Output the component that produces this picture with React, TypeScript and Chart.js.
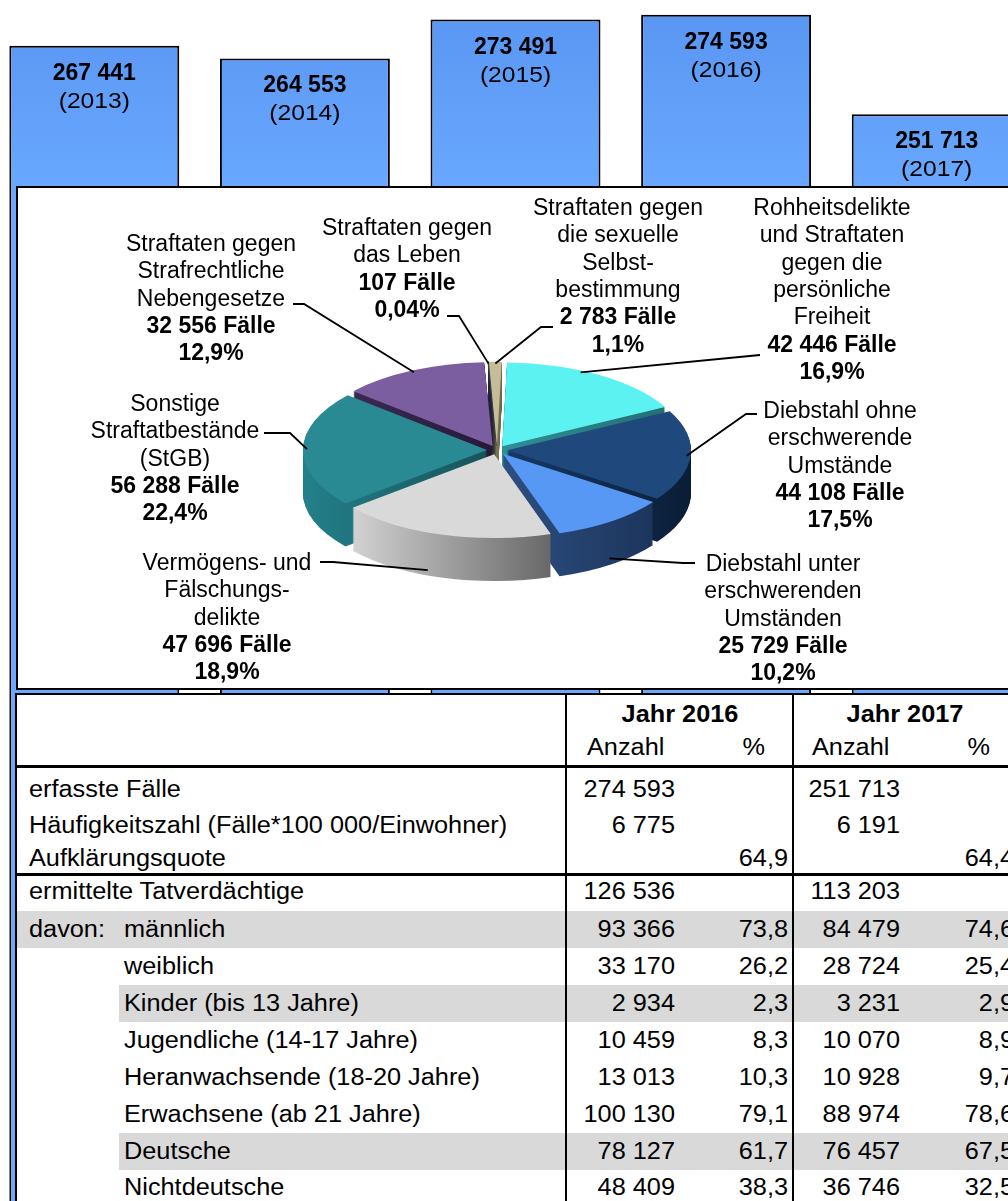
import React, { useEffect, useRef } from 'react';
import { Chart, registerables } from 'chart.js';

Chart.register(...registerables);

const FONT = '"Liberation Sans", Arial, Helvetica, sans-serif';

// ---------------- Data ----------------
const years = ['2013', '2014', '2015', '2016', '2017'];
const recordedCases = [267441, 264553, 273491, 274593, 251713];

const offenceGroups = [
  ['Rohheitsdelikte', 'und Straftaten', 'gegen die', 'persönliche', 'Freiheit'],
  ['Diebstahl ohne', 'erschwerende', 'Umstände'],
  ['Diebstahl unter', 'erschwerenden', 'Umständen'],
  ['Vermögens- und', 'Fälschungs-', 'delikte'],
  ['Sonstige', 'Straftatbestände', '(StGB)'],
  ['Straftaten gegen', 'Strafrechtliche', 'Nebengesetze'],
  ['Straftaten gegen', 'das Leben'],
  ['Straftaten gegen', 'die sexuelle', 'Selbst-', 'bestimmung'],
];
const offenceCases = [42446, 44108, 25729, 47696, 56288, 32556, 107, 2783];
const offencePercents = ['16,9%', '17,5%', '10,2%', '18,9%', '22,4%', '12,9%', '0,04%', '1,1%'];

const tableYears = ['Jahr 2016', 'Jahr 2017'];
const tableSubHeads = ['Anzahl', '%'];
const tableRowLabels = [
  'erfasste Fälle',
  'Häufigkeitszahl (Fälle*100 000/Einwohner)',
  'Aufklärungsquote',
  'ermittelte Tatverdächtige',
  'männlich',
  'weiblich',
  'Kinder (bis 13 Jahre)',
  'Jugendliche (14-17 Jahre)',
  'Heranwachsende (18-20 Jahre)',
  'Erwachsene (ab 21 Jahre)',
  'Deutsche',
  'Nichtdeutsche',
];
const tablePrefix = 'davon:';
const count2016 = [274593, 6775, null, 126536, 93366, 33170, 2934, 10459, 13013, 100130, 78127, 48409];
const percent2016 = ['', '', '64,9', '', '73,8', '26,2', '2,3', '8,3', '10,3', '79,1', '61,7', '38,3'];
const count2017 = [251713, 6191, null, 113203, 84479, 28724, 3231, 10070, 10928, 88974, 76457, 36746];
const percent2017 = ['', '', '64,4', '', '74,6', '25,4', '2,9', '8,9', '9,7', '78,6', '67,5', '32,5'];

// ---------------- Layout / style ----------------
const sliceFace = ['#5cf2f2', '#1f497d', '#5898f5', '#d9d9d9', '#2a8a93', '#7b5e9f', '#3a3a5a', '#c4bd97'];
const sliceSide = [
  ['#2f8f95', '#236f74'],
  ['#163a66', '#0b1d36'],
  ['#2d4f80', '#1c355c'],
  ['#d2d2d2', '#686868'],
  ['#23808a', '#17545b'],
  ['#3a2a52', '#261a38'],
  ['#222233', '#111122'],
  ['#8f8a66', '#6a6548'],
];
const sliceStroke = [0, 0, 0, 0, 0, 0, 1.2, 0];
const labelFirstLine = [[832, 207], [840, 410], [783, 563], [227, 562], [175, 403], [211, 243], [407, 227], [618, 207]];
const leaderAnchor = [
  [[760, 355], [760, 355]],
  [[757, 414], [746, 414]],
  [[695, 563], [683, 563]],
  [[320, 562], [333, 562]],
  [[264, 433], [290, 433]],
  [[293, 304], [304, 304]],
  [[447, 316], [459, 316]],
  [[553, 327], [541, 327]],
];
const attachFrac = [0.4, 0.5, 0.5, 0.58, 0.5, 0.5, 0.5, 0.5];
const attachDrop = [0, 0, 0.9, 0.92, 0, 0, 0, 0];
const TILT = 0.455;
const EXPLODE = 10;
const DEPTH = 43;
const LINE_H = 27.3;

const rowCenters = [789, 825, 858, 891, 929, 966, 1003, 1040, 1077, 1114, 1151, 1187];
const rowIndent = [0, 0, 0, 0, 1, 1, 1, 1, 1, 1, 1, 1];
const shadedRows = [[4, 17], [6, 119], [10, 119]];

const fmt = (n: number | null) => (n == null ? '' : String(n).replace(/\B(?=(\d{3})+(?!\d))/g, ' '));

function BarBackdrop() {
  const ref = useRef<HTMLCanvasElement>(null);
  useEffect(() => {
    const canvas = ref.current as HTMLCanvasElement;
    const labelPlugin = {
      id: 'barLabels',
      afterDatasetsDraw(chart: any) {
        const ctx = chart.ctx;
        const meta = chart.getDatasetMeta(0);
        ctx.save();
        ctx.fillStyle = '#000';
        ctx.textAlign = 'center';
        ctx.textBaseline = 'alphabetic';
        meta.data.forEach((bar: any, i: number) => {
          ctx.font = `bold 23px ${FONT}`;
          ctx.fillText(fmt(recordedCases[i]), bar.x, bar.y + 34);
          ctx.save();
          ctx.translate(bar.x, bar.y + 62);
          ctx.scale(1.12, 1);
          ctx.font = `22px ${FONT}`;
          ctx.fillText(`(${years[i]})`, 0, 0);
          ctx.restore();
        });
        ctx.restore();
      },
    };
    const chart = new Chart(canvas, {
      type: 'bar',
      data: {
        labels: years,
        datasets: [
          {
            data: recordedCases,
            backgroundColor: (c: any) => {
              const area = c.chart.chartArea;
              if (!area) return '#5f9ef8';
              const g = c.chart.ctx.createLinearGradient(0, area.top, 0, area.top + 200);
              g.addColorStop(0, '#5895f2');
              g.addColorStop(1, '#6aa9ff');
              return g;
            },
            borderColor: '#000',
            borderWidth: 2,
            categoryPercentage: 1,
            barPercentage: 0.807,
          },
        ],
      },
      options: {
        responsive: false,
        animation: false,
        devicePixelRatio: 1,
        layout: { padding: 0 },
        plugins: { legend: { display: false }, tooltip: { enabled: false } },
        scales: {
          x: { display: false },
          y: { display: false, min: 0, max: 278000 },
        },
      } as any,
      plugins: [labelPlugin],
    });
    return () => chart.destroy();
  }, []);
  return <canvas ref={ref} width={1053} height={1207} style={{ position: 'absolute', left: -11, top: 0 }} />;
}

function OffencePie() {
  const ref = useRef<HTMLCanvasElement>(null);
  useEffect(() => {
    const canvas = ref.current as HTMLCanvasElement;
    const pie3d = {
      id: 'pie3d',
      beforeDatasetsDraw(chart: any) {
        const arcs = chart.getDatasetMeta(0).data as any[];
        if (!arcs.length) return false;
        const ctx = chart.ctx;
        const cx = arcs[0].x;
        const cy = arcs[0].y;
        const R = arcs[0].outerRadius;
        const path = (a: any, dy: number) => {
          const m = (a.startAngle + a.endAngle) / 2;
          const ox = Math.cos(m) * EXPLODE;
          const oy = Math.sin(m) * EXPLODE;
          ctx.beginPath();
          ctx.moveTo(cx + ox, cy + oy + dy);
          ctx.arc(cx + ox, cy + oy + dy, R, a.startAngle, a.endAngle);
          ctx.closePath();
        };
        ctx.save();
        ctx.translate(cx, cy);
        ctx.scale(1, TILT);
        ctx.translate(-cx, -cy);
        const grads = arcs.map((a: any, i: number) => {
          const m = (a.startAngle + a.endAngle) / 2;
          const ox = cx + Math.cos(m) * EXPLODE;
          let minX = ox;
          let maxX = ox;
          for (let s = 0; s <= 24; s++) {
            const ang = a.startAngle + ((a.endAngle - a.startAngle) * s) / 24;
            const x = ox + Math.cos(ang) * R;
            minX = Math.min(minX, x);
            maxX = Math.max(maxX, x);
          }
          const g = ctx.createLinearGradient(minX, 0, maxX + 0.01, 0);
          g.addColorStop(0, sliceSide[i][0]);
          g.addColorStop(1, sliceSide[i][1]);
          return g;
        });
        for (let k = DEPTH; k >= 1; k -= 1) {
          arcs.forEach((a: any, i: number) => {
            path(a, k / TILT);
            ctx.fillStyle = grads[i];
            ctx.fill();
          });
        }
        arcs.forEach((a: any, i: number) => {
          path(a, 0);
          ctx.fillStyle = sliceFace[i];
          ctx.fill();
          if (sliceStroke[i] > 0) {
            ctx.strokeStyle = sliceFace[i];
            ctx.lineWidth = sliceStroke[i];
            ctx.stroke();
          }
        });
        ctx.restore();
        return false;
      },
      afterDraw(chart: any) {
        const arcs = chart.getDatasetMeta(0).data as any[];
        if (!arcs.length) return;
        const ctx = chart.ctx;
        const cx = arcs[0].x;
        const cy = arcs[0].y;
        const R = arcs[0].outerRadius;
        ctx.save();
        ctx.strokeStyle = '#000';
        ctx.lineWidth = 1.8;
        arcs.forEach((a: any, i: number) => {
          const m = (a.startAngle + a.endAngle) / 2;
          const ang = a.startAngle + (a.endAngle - a.startAngle) * attachFrac[i];
          const r = R - 4;
          const px = cx + Math.cos(m) * EXPLODE + Math.cos(ang) * r;
          const py = cy + TILT * (Math.sin(m) * EXPLODE + Math.sin(ang) * r) + attachDrop[i] * DEPTH;
          const [anchor, elbow] = leaderAnchor[i];
          ctx.beginPath();
          ctx.moveTo(anchor[0], anchor[1]);
          ctx.lineTo(elbow[0], elbow[1]);
          ctx.lineTo(px, py);
          ctx.stroke();
        });
        ctx.fillStyle = '#000';
        ctx.textAlign = 'center';
        ctx.textBaseline = 'alphabetic';
        offenceGroups.forEach((lines, i) => {
          const all = [...lines.map((t) => ({ t, b: false })), { t: `${fmt(offenceCases[i])} Fälle`, b: true }, { t: offencePercents[i], b: true }];
          const [x, y0] = labelFirstLine[i];
          all.forEach((ln, j) => {
            ctx.font = `${ln.b ? 'bold ' : ''}23px ${FONT}`;
            ctx.fillText(ln.t, x, y0 + j * LINE_H + 8);
          });
        });
        ctx.restore();
      },
    };
    const chart = new Chart(canvas, {
      type: 'pie',
      data: {
        labels: offenceGroups.map((g) => g.join(' ')),
        datasets: [{ data: offenceCases, backgroundColor: sliceFace, borderWidth: 0 }],
      },
      options: {
        responsive: false,
        animation: false,
        devicePixelRatio: 1,
        rotation: 1.5,
        layout: { padding: { left: 313, right: 327, top: 266, bottom: 56 } },
        plugins: { legend: { display: false }, tooltip: { enabled: false } },
      } as any,
      plugins: [pie3d],
    });
    return () => chart.destroy();
  }, []);
  return <canvas ref={ref} width={1008} height={690} style={{ position: 'absolute', left: 0, top: 0 }} />;
}

type TxtProps = { x: number; y: number; text: string; align?: 'left' | 'right' | 'center'; bold?: boolean };
function Txt({ x, y, text, align = 'left', bold = false }: TxtProps) {
  const w = 600;
  let left = x;
  let origin = 'left center';
  if (align === 'right') {
    left = x - w;
    origin = 'right center';
  } else if (align === 'center') {
    left = x - w / 2;
    origin = 'center center';
  }
  return (
    <div
      style={{
        position: 'absolute',
        left,
        top: y - 15,
        width: w,
        height: 30,
        lineHeight: '30px',
        fontSize: 23,
        fontFamily: FONT,
        fontWeight: bold ? 700 : 400,
        textAlign: align,
        whiteSpace: 'nowrap',
        transform: 'scaleX(1.1)',
        transformOrigin: origin,
        color: '#000',
      }}
    >
      {text}
    </div>
  );
}

function StatsTable() {
  const abs = (l: number, t: number, w: number, h: number, bg: string, key: string) => (
    <div key={key} style={{ position: 'absolute', left: l, top: t, width: w, height: h, background: bg }} />
  );
  const els: any[] = [];
  els.push(
    <div
      key="bg"
      style={{
        position: 'absolute',
        left: 15,
        top: 693,
        width: 1100,
        height: 600,
        background: '#fff',
        borderLeft: '2px solid #000',
        borderTop: '2px solid #000',
        boxSizing: 'border-box',
      }}
    />
  );
  shadedRows.forEach(([row, x0], i) => els.push(abs(x0, rowCenters[row] - 18, 1100, 37, '#d9d9d9', `sh${i}`)));
  els.push(abs(565, 693, 2, 600, '#000', 'v1'));
  els.push(abs(792, 693, 2, 600, '#000', 'v2'));
  els.push(abs(15, 765, 1100, 3, '#000', 'h1'));
  els.push(abs(15, 873, 1100, 3, '#000', 'h2'));

  const colX = [[680, 587, 765, 675, 788], [905, 812, 990, 900, 1014]];
  tableYears.forEach((yr, c) => {
    els.push(<Txt key={`y${c}`} x={colX[c][0]} y={714} text={yr} align="center" bold />);
    els.push(<Txt key={`a${c}`} x={colX[c][1]} y={747} text={tableSubHeads[0]} />);
    els.push(<Txt key={`p${c}`} x={colX[c][2]} y={747} text={tableSubHeads[1]} align="right" />);
  });
  tableRowLabels.forEach((label, r) => {
    const y = rowCenters[r];
    els.push(<Txt key={`l${r}`} x={rowIndent[r] ? 124 : 29} y={y} text={label} />);
    if (r === 4) els.push(<Txt key="prefix" x={29} y={y} text={tablePrefix} />);
    els.push(<Txt key={`c16${r}`} x={colX[0][3]} y={y} text={fmt(count2016[r])} align="right" />);
    els.push(<Txt key={`p16${r}`} x={colX[0][4]} y={y} text={percent2016[r]} align="right" />);
    els.push(<Txt key={`c17${r}`} x={colX[1][3]} y={y} text={fmt(count2017[r])} align="right" />);
    els.push(<Txt key={`p17${r}`} x={colX[1][4]} y={y} text={percent2017[r]} align="right" />);
  });
  return <>{els}</>;
}

export default function App() {
  return (
    <div
      style={{
        position: 'absolute',
        left: 0,
        top: 0,
        width: 1008,
        height: 1201,
        overflow: 'hidden',
        background: '#fff',
      }}
    >
      <BarBackdrop />
      <div
        style={{
          position: 'absolute',
          left: 16,
          top: 186,
          width: 1100,
          height: 504,
          background: '#fff',
          border: '2px solid #000',
          boxSizing: 'border-box',
        }}
      />
      <OffencePie />
      <StatsTable />
    </div>
  );
}
